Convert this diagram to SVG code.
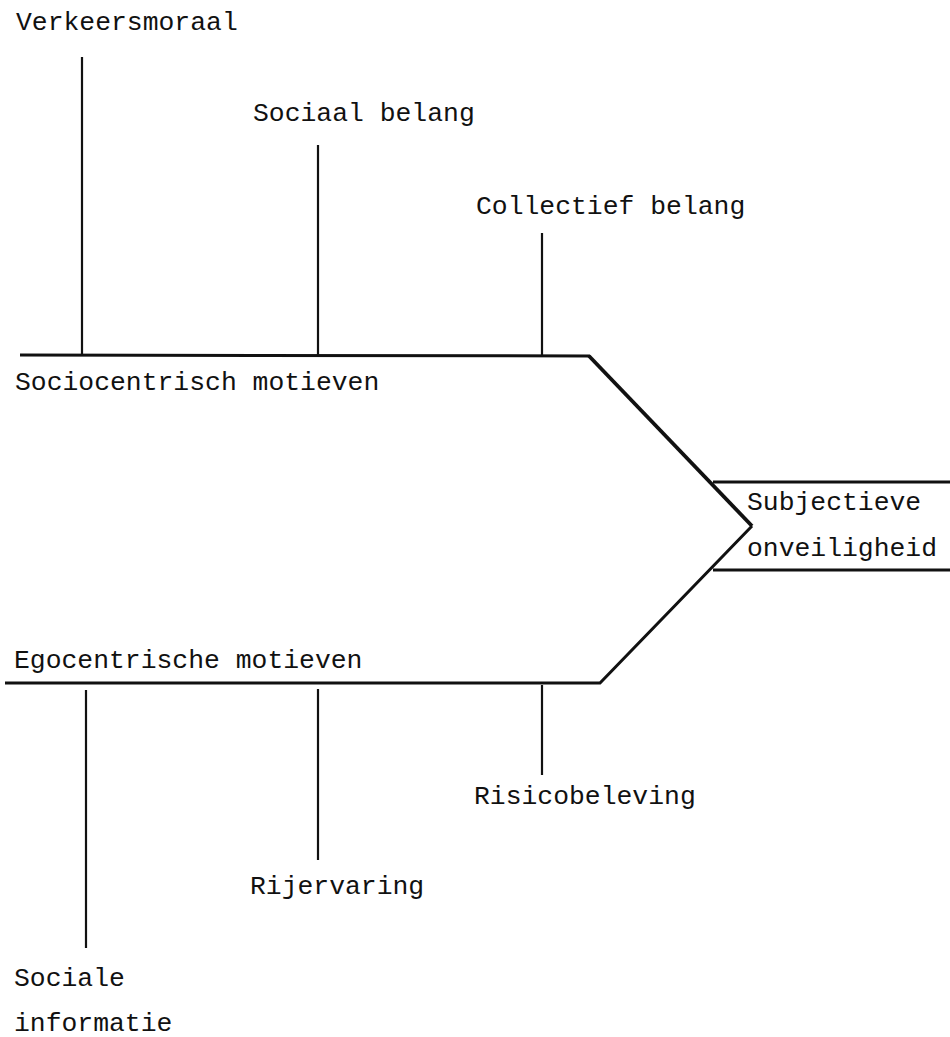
<svg xmlns="http://www.w3.org/2000/svg" width="950" height="1037" viewBox="0 0 950 1037">
  <style>
    .lbl { font-family: "Liberation Mono", "DejaVu Sans Mono", monospace; font-size: 26.4px; fill: #111; }
    .main { stroke: #111; stroke-width: 3; fill: none; stroke-linejoin: miter; }
    .diag { stroke: #111; stroke-width: 3.8; fill: none; }
    .rib { stroke: #111; stroke-width: 2.2; fill: none; }
  </style>
  <rect width="950" height="1037" fill="#fff"/>

  <g id="connectors">
    <!-- upper spine -->
    <line class="main" x1="20" y1="355" x2="590" y2="356"/>
    <!-- diagonal from the upper spine into the effect -->
    <line class="diag" x1="589" y1="356" x2="752" y2="526"/>
    <!-- lower spine and its diagonal into the effect -->
    <polyline class="main" points="5,683 600,683 752,526"/>
    <!-- effect box edges -->
    <line class="main" x1="713" y1="482" x2="950" y2="482"/>
    <line class="main" x1="713" y1="570" x2="950" y2="570"/>
    <!-- upper ribs -->
    <line class="rib" x1="82" y1="57" x2="82" y2="355"/>
    <line class="rib" x1="318" y1="145" x2="318" y2="356"/>
    <line class="rib" x1="542" y1="233" x2="542" y2="356"/>
    <!-- lower ribs -->
    <line class="rib" x1="86" y1="690" x2="86" y2="948"/>
    <line class="rib" x1="318" y1="689" x2="318" y2="860"/>
    <line class="rib" x1="542" y1="685" x2="542" y2="775"/>
  </g>

  <g id="verkeersmoraal"><text class="lbl" x="16" y="30">Verkeersmoraal</text></g>
  <g id="sociaal-belang"><text class="lbl" x="253" y="121">Sociaal belang</text></g>
  <g id="collectief-belang"><text class="lbl" x="476" y="214">Collectief belang</text></g>
  <g id="sociocentrisch"><text class="lbl" x="15" y="390">Sociocentrisch motieven</text></g>
  <g id="subjectieve-onveiligheid">
    <text class="lbl" x="747" y="510">Subjectieve</text>
    <text class="lbl" x="747" y="556">onveiligheid</text>
  </g>
  <g id="egocentrisch"><text class="lbl" x="14" y="668">Egocentrische motieven</text></g>
  <g id="risicobeleving"><text class="lbl" x="474" y="804">Risicobeleving</text></g>
  <g id="rijervaring"><text class="lbl" x="250" y="894">Rijervaring</text></g>
  <g id="sociale-informatie">
    <text class="lbl" x="14" y="986">Sociale</text>
    <text class="lbl" x="14" y="1031">informatie</text>
  </g>
</svg>
